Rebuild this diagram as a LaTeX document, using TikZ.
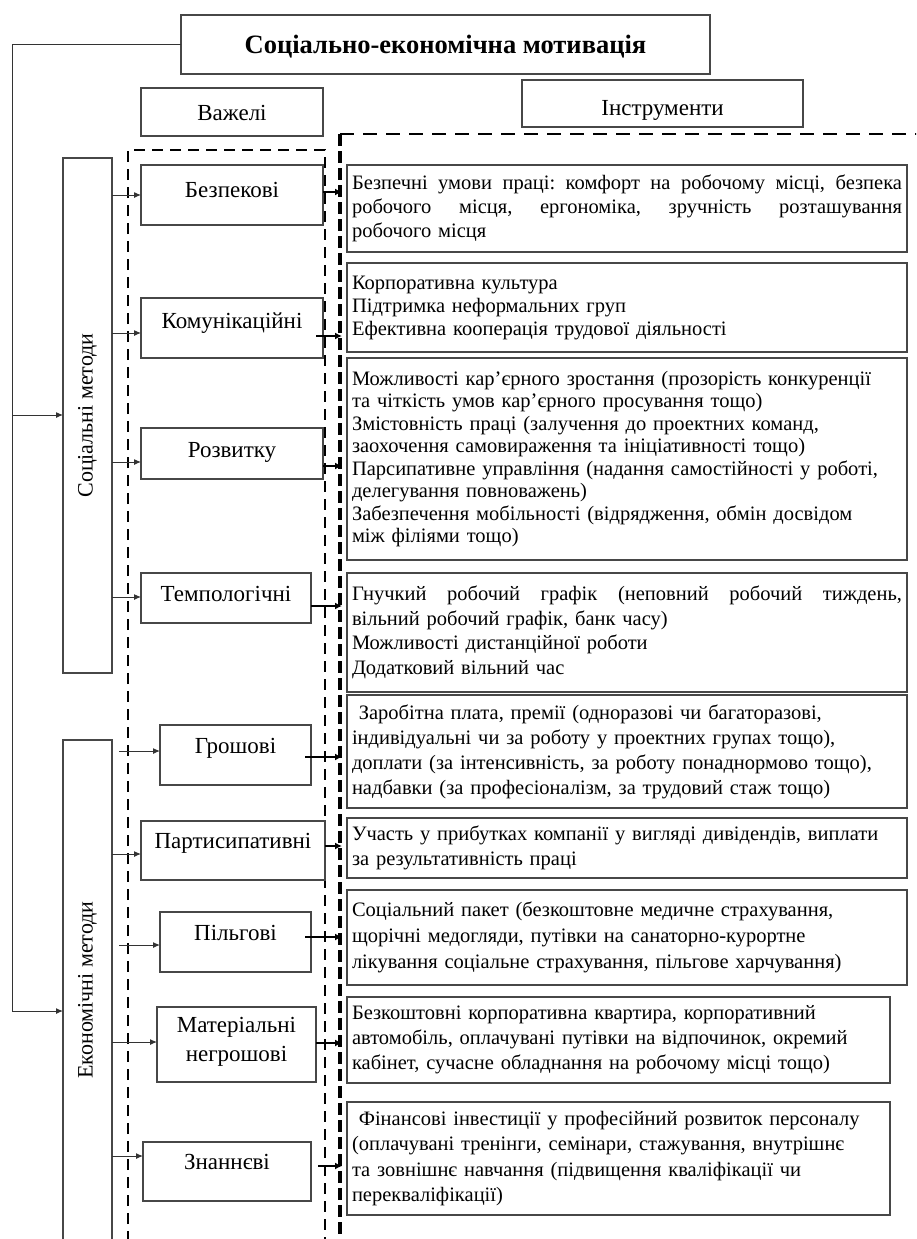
\documentclass[tikz,border=0pt]{standalone}
\usepackage{fontspec}
\setmainfont{Liberation Serif}
\usetikzlibrary{arrows.meta}
\frenchspacing
\newcommand\jl[1]{\makebox[550pt][s]{\spaceskip=0.25em plus 6em\xspaceskip=0pt #1}}
\newcommand\lift[2]{\raisebox{#1pt}[0pt][0pt]{#2}}
\begin{document}
\begin{tikzpicture}[x=1pt,y=-1pt,
 bx/.style={draw=black!72, line width=1.4pt, inner sep=0pt, outer sep=0pt, anchor=north west},
 lev/.style={bx, font=\fontsize{23}{27}\selectfont, align=center},
 ins/.style n args={2}{bx, font=\fontsize{20.5}{#1}\selectfont, align=left, inner xsep=5pt, text width=#2},
 ln/.style={draw=black!80, line width=1pt},
 arr/.style={ln, -{Latex[length=7pt,width=6pt]}},
 oarr/.style={draw=black, line width=1.8pt, -{Latex[length=7pt,width=7pt]}},
 dshA/.style={draw=black, line width=2.6pt, dash pattern=on 11pt off 7pt},
 dshB/.style={draw=black, line width=2.6pt, dash pattern=on 14pt off 9pt},
 dshC/.style={draw=black, line width=4pt, dash pattern=on 12pt off 5pt},
]
\useasboundingbox (0,0) rectangle (916,1239);
\clip (0,0) rectangle (916,1239);

% dashed groups
\draw[dshA] (128,1260) -- (128,150) -- (325,150) -- (325,1260);
\draw[dshB] (340,134) -- (930,134);
\draw[dshC] (340,134) -- (340,1260);

% headers
\node[bx, minimum width=529, minimum height=59, font=\bfseries\fontsize{26.5}{31}\selectfont] (title) at (181,15) {\lift{-9}{Соціально-економічна мотивація}};
\node[bx, minimum width=182, minimum height=48, font=\fontsize{23}{27}\selectfont] (vaz) at (141,88) {\lift{-8}{Важелі}};
\node[bx, minimum width=281, minimum height=47, font=\fontsize{23}{27}\selectfont] (instr) at (522,80) {\lift{-12}{Інструменти}};

% method boxes
\node[bx, minimum width=49, minimum height=515, font=\fontsize{22}{26}\selectfont] (soc) at (63,158) {\rotatebox{90}{Соціальні методи}};
\node[bx, minimum width=49, minimum height=520, font=\fontsize{22}{26}\selectfont] (eco) at (63,740) {\rotatebox{90}{\hspace*{20pt}Економічні методи}};

% lever boxes
\node[lev, minimum width=182, minimum height=60] (b1) at (141,165) {\lift{-2}{Безпекові}};
\node[lev, minimum width=182, minimum height=60] (b2) at (141,298) {\lift{0}{Комунікаційні}};
\node[lev, minimum width=182, minimum height=51] (b3) at (141,428) {\lift{-4}{Розвитку}};
\node[lev, minimum width=170, minimum height=50] (b4) at (141,573) {\lift{-3}{Темпологічні}};
\node[lev, minimum width=151, minimum height=60] (b5) at (160,725) {\lift{2}{Грошові}};
\node[lev, minimum width=184, minimum height=59] (b6) at (141,821) {\lift{2}{Партисипативні}};
\node[lev, minimum width=151, minimum height=60] (b7) at (160,912) {\lift{2}{Пільгові}};
\node[lev, minimum width=159, minimum height=75] (b8) at (157,1007) {\lift{-17}{\begin{tabular}[b]{@{}c@{}}Матеріальні\\[2pt]негрошові\end{tabular}}};
\node[lev, minimum width=168, minimum height=59] (b9) at (143,1142) {\lift{2}{Знаннєві}};

% instrument boxes
\node[ins={24pt}{550pt}, minimum height=87] (i1) at (347,165) {\jl{Безпечні умови праці: комфорт на робочому місці, безпека}\\\jl{робочого місця, ергономіка, зручність розташування}\\робочого місця};
\node[ins={23pt}{550pt}, minimum height=89] (i2) at (347,263) {Корпоративна культура\\Підтримка неформальних груп\\Ефективна кооперація трудової діяльності};
\node[ins={22.5pt}{550pt}, minimum height=202] (i3) at (347,358) {Можливості кар'єрного зростання (прозорість конкуренції\\та чіткість умов кар'єрного просування тощо)\\Змістовність праці (залучення до проектних команд,\\заохочення самовираження та ініціативності тощо)\\Парсипативне управління (надання самостійності у роботі,\\делегування повноважень)\\Забезпечення мобільності (відрядження, обмін досвідом\\між філіями тощо)};
\node[ins={24.5pt}{550pt}, minimum height=119] (i4) at (347,573) {\jl{Гнучкий робочий графік (неповний робочий тиждень,}\\вільний робочий графік, банк часу)\\Можливості дистанційної роботи\\Додатковий вільний час};
\node[ins={25pt}{550pt}, minimum height=113] (i5) at (347,695) {\ Заробітна плата, премії (одноразові чи багаторазові,\\індивідуальні чи за роботу у проектних групах тощо),\\доплати (за інтенсивність, за роботу понаднормово тощо),\\надбавки (за професіоналізм, за трудовий стаж тощо)};
\node[ins={25pt}{550pt}, minimum height=60] (i6) at (347,818) {Участь у прибутках компанії у вигляді дивідендів, виплати\\за результативність праці};
\node[ins={26pt}{550pt}, minimum height=95] (i7) at (347,890) {Соціальний пакет (безкоштовне медичне страхування,\\щорічні медогляди, путівки на санаторно-курортне\\лікування соціальне страхування, пільгове харчування)};
\node[ins={25pt}{533pt}, minimum height=86] (i8) at (347,997) {Безкоштовні корпоративна квартира, корпоративний\\автомобіль, оплачувані путівки на відпочинок, окремий\\кабінет, сучасне обладнання на робочому місці тощо)};
\node[ins={25.5pt}{533pt}, minimum height=113] (i9) at (347,1102) {\ Фінансові інвестиції у професійний розвиток персоналу\\(оплачувані тренінги, семінари, стажування, внутрішнє\\та зовнішнє навчання (підвищення кваліфікації чи\\перекваліфікації)};

% left trunk
\coordinate (lt) at (12,44.5);
\coordinate (ls) at (12,415);
\coordinate (le) at (12,1011);
\draw[ln] (title.west) -- (lt) -- (le);
\draw[arr] (ls) -- (ls -| soc.west);
\draw[arr] (le) -- (le -| eco.west);

% method -> lever
\coordinate (s1) at (112,195);
\coordinate (s2) at (112,333);
\coordinate (s3) at (112,462);
\coordinate (s4) at (112,597);
\coordinate (e5) at (112,751);
\coordinate (e6) at (112,854);
\coordinate (e7) at (112,945);
\coordinate (e8) at (112,1042);
\coordinate (e9) at (112,1156);
\draw[arr] (s1) -- (s1 -| b1.west);
\draw[arr] (s2) -- (s2 -| b2.west);
\draw[arr] (s3) -- (s3 -| b3.west);
\draw[arr] (s4) -- (s4 -| b4.west);
\draw[arr, shorten <=7pt] (e5) -- (e5 -| b5.west);
\draw[arr] (e6) -- (e6 -| b6.west);
\draw[arr, shorten <=7pt] (e7) -- (e7 -| b7.west);
\draw[arr] (e8) -- (e8 -| b8.west);
\draw[arr] (e9) -- (e9 -| b9.west);

% lever -> instruments
\coordinate (o1) at (323,192);
\coordinate (o2) at (316,336);
\coordinate (o3) at (323,466);
\coordinate (o4) at (311,606);
\coordinate (o5) at (305,757);
\coordinate (o6) at (325,846);
\coordinate (o7) at (305,937);
\coordinate (o8) at (316,1043);
\coordinate (o9) at (318,1166);
\draw[oarr, shorten >=5pt] (o1) -- (o1 -| i1.west);
\draw[oarr, shorten >=5pt] (o2) -- (o2 -| i2.west);
\draw[oarr, shorten >=5pt] (o3) -- (o3 -| i3.west);
\draw[oarr, shorten >=5pt] (o4) -- (o4 -| i4.west);
\draw[oarr, shorten >=5pt] (o5) -- (o5 -| i5.west);
\draw[oarr, shorten >=5pt] (o6) -- (o6 -| i6.west);
\draw[oarr, shorten >=5pt] (o7) -- (o7 -| i7.west);
\draw[oarr, shorten >=5pt] (o8) -- (o8 -| i8.west);
\draw[oarr, shorten >=5pt] (o9) -- (o9 -| i9.west);
\end{tikzpicture}
\end{document}
